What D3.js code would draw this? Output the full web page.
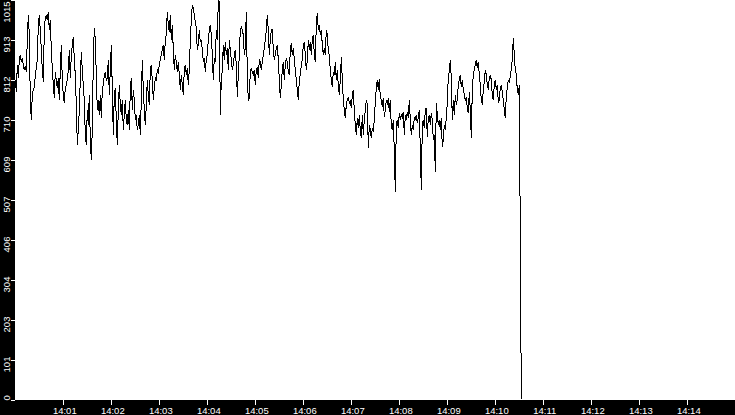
<!DOCTYPE html>
<html>
<head>
<meta charset="utf-8">
<script src="https://cdn.jsdelivr.net/npm/d3@7"></script>
<style>
  body { margin: 0; background: #000; }
  svg { display: block; }
</style>
</head>
<body>
<div id="chart"></div>
<script>
// Data
var startTime = new Date(2020, 0, 1, 14, 0, 0);
var endTime = new Date(2020, 0, 1, 14, 15, 0);
var stepSeconds = 1.25;

var yMax = 1015;
var yTickValues = [0, 101.5, 203, 304.5, 406, 507.5, 609, 710.5, 812, 913.5, 1015];
var yTickLabels = ["0", "101", "203", "304", "406", "507", "609", "710", "812", "913", "1015"];
var xTickLabels = ["14:01", "14:02", "14:03", "14:04", "14:05", "14:06", "14:07",
                   "14:08", "14:09", "14:10", "14:11", "14:12", "14:13", "14:14"];

var values = [
  // 14:00:00 -
  811, 781, 849, 816, 862, 874, 857, 867, 849, 836, 847, 831, 913, 976, 925, 760,
  709, 773, 786, 791, 824, 841, 862, 951, 976, 938, 887, 836, 806, 938, 968, 976,
  963, 984, 938, 963, 887, 841, 798, 765, 831, 811, 791, 816, 760, 836, 900, 811,
  773, 753, 791, 798, 811, 836, 887, 816, 874, 900, 920, 862, 824, 748, 646, 684,
  735, 811, 882, 836, 798, 760, 671, 646, 735, 697, 773, 659, 608, 684, 862, 943,
  913, 824, 735, 760, 722, 773,
  // ~14:01:50
  715, 786, 798, 824, 831, 811, 816, 862, 773, 836, 900, 786, 671, 773, 791, 709,
  646, 735, 798, 748, 722, 760, 684, 722, 760, 709, 697, 735, 684, 786, 816, 735,
  786, 760, 709, 722, 684, 697, 722, 671, 760, 862, 786, 735, 697, 748, 811, 773,
  748, 836, 849, 811, 760, 791, 816, 811, 836, 831, 849, 862, 874, 887, 900, 862,
  913, 925, 984, 951, 933, 976, 913, 951, 887, 836, 874, 857, 831, 857, 824, 786,
  824, 798, 773, 836, 849, 824, 841,
  // ~14:03:40
  798, 836, 913, 963, 1001, 994, 976, 958, 943, 887, 900, 938, 907, 913, 887, 857,
  867, 831, 862, 874, 913, 938, 951, 925, 874, 811, 867, 857, 938, 913, 1012, 1009,
  722, 811, 836, 900, 862, 907, 874, 892, 836, 913, 887, 862, 836, 849, 874, 887,
  849, 768, 824, 874, 938, 945, 938, 925, 874, 892, 984, 824, 760, 765, 831, 841,
  831, 824, 836, 798, 836, 841, 816, 862, 857, 836, 857, 874, 892, 913, 938, 976,
  938, 874, 913, 938,
  // ~14:05:25
  938, 887, 862, 874, 892, 900, 862, 811, 765, 798, 836, 857, 811, 849, 867, 857,
  831, 824, 887, 905, 874, 892, 862, 836, 811, 786, 760, 811, 824, 849, 862, 900,
  907, 874, 836, 862, 913, 887, 907, 874, 913, 925, 874, 857, 951, 981, 938, 951,
  925, 938, 900, 874, 892, 874, 938, 925, 887, 874, 836, 811, 793, 831, 824, 857,
  811, 836, 798, 773, 811, 869, 811, 760, 735, 715, 748, 760, 768, 753, 760, 740,
  773, 786, 730, 697, 671, 715, 689, 722, 684, 664,
  // ~14:07:18
  722, 671, 709, 735, 760, 748, 638, 697, 684, 664, 689, 679, 709, 755, 791, 811,
  786, 814, 768, 760, 743, 765, 717, 735, 760, 748, 765, 730, 760, 692, 684, 709,
  633, 527, 697, 709, 689, 727, 709, 722, 715, 730, 671, 722, 709, 730, 715, 760,
  709, 671, 697, 684, 717, 709, 722, 702, 715, 735, 633, 532, 697, 709, 689, 735,
  740, 666, 715, 722, 697, 727, 709, 659, 671, 578, 753, 722, 697, 709, 684, 715,
  641, 659, 697, 684, 715, 753, 819,
  // ~14:09:07
  831, 862, 816, 709, 760, 722, 773, 748, 760, 798, 811, 824, 793, 811, 786, 773,
  760, 765, 740, 727, 781, 735, 664, 786, 824, 836, 849, 862, 841, 857, 824, 798,
  760, 748, 786, 806, 836, 824, 798, 786, 816, 824, 811, 773, 760, 798, 811, 786,
  798, 755, 760, 791, 798, 781, 760, 735, 715, 773, 791, 811, 803, 819, 841, 862,
  918, 874, 836, 824, 786, 773, 798,
  // drop
  400, 0
];

var svgWidth = 735;
var svgHeight = 415;
var plot = { left: 15, top: 0, right: 735, bottom: 400 };

var svg = d3.select("#chart")
  .append("svg")
  .attr("width", svgWidth)
  .attr("height", svgHeight)
  .style("font-family", "'DejaVu Sans', sans-serif");

svg.append("rect")
  .attr("width", svgWidth)
  .attr("height", svgHeight)
  .attr("fill", "#000");

svg.append("rect")
  .attr("x", plot.left)
  .attr("y", plot.top)
  .attr("width", plot.right - plot.left)
  .attr("height", plot.bottom - plot.top)
  .attr("fill", "#fff");

var xScale = d3.scaleTime()
  .domain([startTime, endTime])
  .range([15.3, 735.3]);

var yScale = d3.scaleLinear()
  .domain([0, yMax])
  .range([399.5, -0.5]);

// x axis
var xTicks = xTickLabels.map(function(label) {
  var parts = label.split(":");
  return new Date(2020, 0, 1, +parts[0], +parts[1], 0);
});

var xAxis = d3.axisBottom(xScale)
  .tickValues(xTicks)
  .tickSize(5)
  .tickFormat(function(d, i) { return xTickLabels[i]; });

var gx = svg.append("g")
  .attr("transform", "translate(0," + plot.bottom + ")")
  .call(xAxis);
gx.select(".domain").remove();
gx.selectAll("line").attr("stroke", "#fff").attr("shape-rendering", "crispEdges");
gx.selectAll("text")
  .attr("fill", "#fff")
  .style("font-size", "9.5px")
  .attr("x", 1)
  .attr("y", 14)
  .attr("dy", null);

// y axis
var yAxis = d3.axisLeft(yScale)
  .tickValues(yTickValues)
  .tickSize(4)
  .tickFormat(function(d, i) { return yTickLabels[i]; });

var gy = svg.append("g")
  .attr("transform", "translate(" + plot.left + ",0)")
  .call(yAxis);
gy.select(".domain").remove();
gy.selectAll("line").attr("stroke", "#fff").attr("shape-rendering", "crispEdges");

// rotated labels, centred a little below the tick, kept inside the plot height
gy.selectAll(".tick text")
  .attr("fill", "#fff")
  .style("font-size", "9.5px")
  .attr("x", null)
  .attr("dy", null)
  .attr("text-anchor", "middle")
  .attr("transform", function(d) {
    var w = this.getComputedTextLength();
    var ty = yScale(d);
    var c = ty + 4.5;
    c = Math.max(c, 1 - ty + w / 2 + ty);
    c = Math.min(c, plot.bottom - w / 2);
    c = Math.max(c, w / 2 + 1);
    return "translate(-5.5," + (c - ty) + ") rotate(-90)";
  });

// the line
var line = d3.line()
  .x(function(d, i) { return xScale(new Date(startTime.getTime() + i * stepSeconds * 1000)); })
  .y(function(d) { return yScale(d); });

svg.append("path")
  .datum(values)
  .attr("d", line)
  .attr("fill", "none")
  .attr("stroke", "#000")
  .attr("stroke-width", 1)
  .attr("shape-rendering", "crispEdges");
</script>
</body>
</html>
